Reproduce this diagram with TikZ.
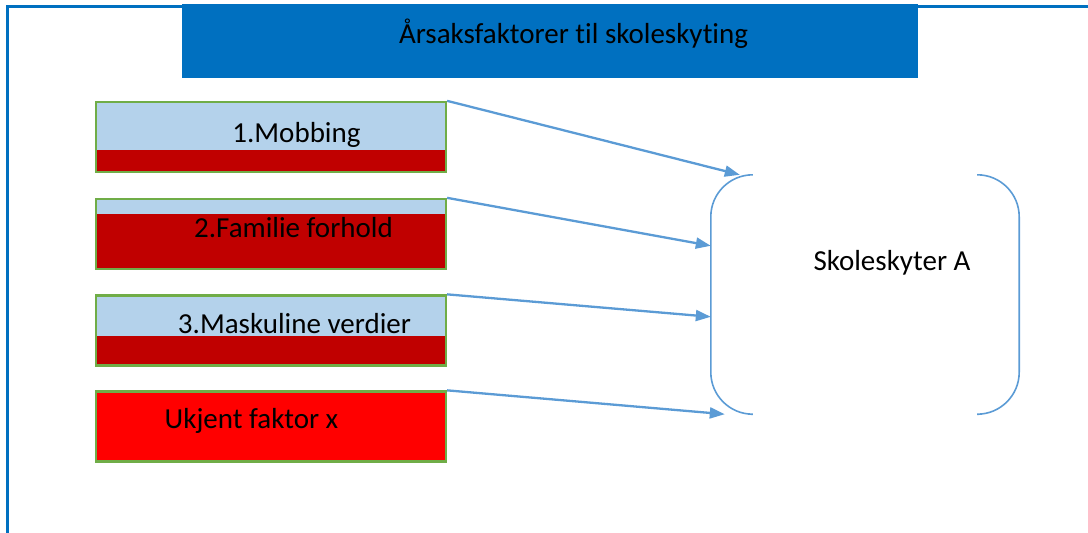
\documentclass[tikz,border=0pt]{standalone}
\usepackage{fontspec}
\setmainfont[Ligatures={NoCommon,NoRare,NoContextual}]{Carlito}
\usetikzlibrary{arrows.meta,calc}
\definecolor{frameblue}{HTML}{0070C0}
\definecolor{linkblue}{HTML}{5B9BD5}
\definecolor{paleblue}{HTML}{B4D2EB}
\definecolor{deepred}{HTML}{C00000}
\definecolor{brightred}{HTML}{FF0000}
\definecolor{leafgreen}{HTML}{70AD47}
\tikzset{
  x=1pt, y=-1pt,
  frame/.style={draw=frameblue, line width=2.4pt},
  titlebar/.style={fill=frameblue, minimum width=736pt, minimum height=74pt, inner sep=0pt},
  factor/.style={draw=leafgreen, line width=2.3pt, minimum width=350pt, minimum height=70pt, inner sep=0pt},
  splitbox/.style={factor, fill=paleblue,
    path picture={\fill[deepred] (path picture bounding box.south west) rectangle ([yshift=#1]path picture bounding box.south east);}},
  redbox/.style={factor, fill=brightred},
  label/.style={font=\fontsize{29}{34}\selectfont, text=black, anchor=base, inner sep=0pt},
  conn/.style={draw=linkblue, line width=2.3pt, -{Triangle[length=15pt,width=11pt]}},
  bracket/.style={draw=linkblue, line width=1.6pt, rounded corners=42pt},
}
\begin{document}
\begin{tikzpicture}
\useasboundingbox (0,0) rectangle (1088,533);
% outer frame (open at the right and bottom)
\draw[frame] (7.5,533) -- (7.5,6.5) -- (1088,6.5);
% heading bar
\node[titlebar] (title) at (550,41) {};
\node[label] (ttl) at (573.5,43) {Årsaksfaktorer til skoleskyting};
% the four factors
\node[splitbox=22pt] (b1) at (271,137) {};
\node[splitbox=55pt] (b2) at (271,234) {};
\node[splitbox=30pt] (b3) at (271,330.5) {};
\node[redbox] (b4) at (271,426.5) {};
\node[label] (t1) at (296.5,142) {1.Mobbing};
\node[label] (t2) at (293.5,237) {2.Familie forhold};
\node[label] (t3) at (294.5,333) {3.Maskuline verdier};
\node[label] (t4) at (251.5,428) {Ukjent faktor x};
% the shooter, shown as a bracket pair
\node[minimum width=308pt, minimum height=239pt, inner sep=0pt] (sa) at (865,294.5) {};
\draw[bracket] ($(sa.north west)+(40,0)$) -- (sa.north west) -- (sa.south west) -- ($(sa.south west)+(40,0)$);
\draw[bracket] ($(sa.north east)+(-40,0)$) -- (sa.north east) -- (sa.south east) -- ($(sa.south east)+(-40,0)$);
\node[label] (sat) at (892,270) {Skoleskyter A};
% causes pointing at the shooter
\draw[conn] (b1.north east) -- ($(sa.north west)+(29,0)$);
\draw[conn] (b2.north east) -- ($(sa.north west)+(0,71)$);
\draw[conn] (b3.north east) -- ($(sa.north west)+(0,142)$);
\draw[conn] (b4.north east) -- ($(sa.south west)+(14,0)$);
\end{tikzpicture}
\end{document}
